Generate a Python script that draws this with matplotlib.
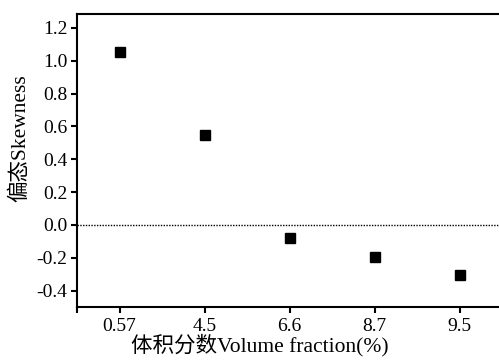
import matplotlib.pyplot as plt

plt.rcParams['font.family'] = ['Liberation Serif', 'Noto Sans CJK SC']

fractions = ['0.57', '4.5', '6.6', '8.7', '9.5']
skewness = [1.053, 0.547, -0.081, -0.193, -0.305]
yticks = [-0.4, -0.2, 0.0, 0.2, 0.4, 0.6, 0.8, 1.0, 1.2]

fig = plt.figure(figsize=(4.99, 3.61), dpi=100)
ax = fig.add_axes([77 / 499, 1 - 307 / 361, 425 / 499, 293 / 361])

pos = list(range(1, len(fractions) + 1))
ax.plot(pos, skewness, 's', color='black', markersize=6.5, linestyle='none')
ax.axhline(0, color='black', linestyle=(0, (1, 1)), linewidth=1.0)

ax.set_xlim(0.5, 5.5)
ax.set_ylim(-0.5, 1.285)
ax.set_xticks(pos)
ax.set_xticklabels(fractions)
ax.set_xticks([0.5], minor=True)
ax.set_yticks(yticks)
ax.set_yticklabels(['%.1f' % v for v in yticks])

for s in ax.spines.values():
    s.set_linewidth(1.5)
ax.tick_params(axis='both', which='both', direction='out', length=4, width=1.5,
               labelsize=14, colors='black')
ax.tick_params(axis='x', pad=4)
ax.tick_params(axis='y', pad=3)

ax.set_xlabel('体积分数Volume fraction(%)', fontsize=15.5)
ax.xaxis.set_label_coords(0.43, -0.092)
ax.set_ylabel('偏态Skewness', fontsize=15.5)
ax.yaxis.set_label_coords(-0.11, 0.575)

fig.savefig('out.png', dpi=100)
